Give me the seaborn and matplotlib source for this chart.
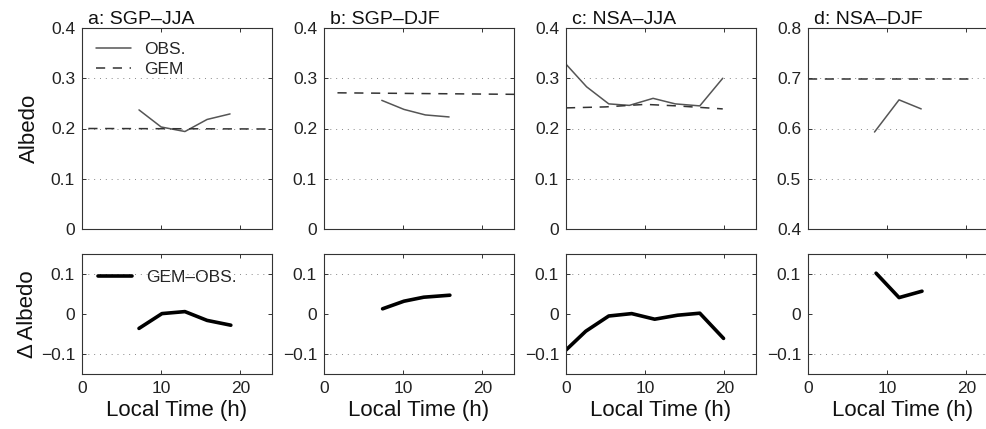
import numpy as np
import pandas as pd
import matplotlib
matplotlib.use('Agg')
import matplotlib.pyplot as plt
import seaborn as sns

sns.set_theme(style='ticks')
plt.rcParams['font.family'] = ['Liberation Sans', 'DejaVu Sans']

titles = ['a: SGP\u2013JJA', 'b: SGP\u2013DJF', 'c: NSA\u2013JJA', 'd: NSA\u2013DJF']

# observed albedo (local time, value)
obs_t_a = [7.2, 10.0, 13.0, 15.8, 18.7]
obs_a = [0.237, 0.203, 0.194, 0.218, 0.229]
obs_t_b = [7.3, 10.1, 12.8, 15.8]
obs_b = [0.256, 0.238, 0.227, 0.223]
obs_t_c = [0.0, 2.6, 5.4, 8.0, 11.0, 13.8, 16.9, 19.8]
obs_c = [0.328, 0.283, 0.249, 0.246, 0.260, 0.249, 0.245, 0.300]
obs_t_d = [8.4, 11.5, 14.3]
obs_d = [0.593, 0.657, 0.639]

# model albedo
gem_t_a = [0.8, 24.0]
gem_a = [0.200, 0.199]
gem_t_b = [1.7, 24.0]
gem_b = [0.271, 0.268]
gem_t_c = [0.0, 5.0, 10.0, 14.0, 19.8]
gem_c = [0.241, 0.243, 0.248, 0.245, 0.239]
gem_t_d = [0.0, 20.4]
gem_d = [0.698, 0.698]

# GEM - OBS
dif_t_a = [7.2, 10.1, 13.0, 15.8, 18.8]
dif_a = [-0.036, 0.001, 0.006, -0.016, -0.028]
dif_t_b = [7.4, 10.1, 12.6, 15.9]
dif_b = [0.013, 0.032, 0.042, 0.047]
dif_t_c = [0.0, 2.5, 5.4, 8.3, 11.2, 14.1, 16.9, 19.9]
dif_c = [-0.090, -0.043, -0.005, 0.001, -0.013, -0.003, 0.002, -0.061]
dif_t_d = [8.6, 11.5, 14.4]
dif_d = [0.102, 0.041, 0.057]

obs_t = [obs_t_a, obs_t_b, obs_t_c, obs_t_d]
obs = [obs_a, obs_b, obs_c, obs_d]
gem_t = [gem_t_a, gem_t_b, gem_t_c, gem_t_d]
gem = [gem_a, gem_b, gem_c, gem_d]
dif_t = [dif_t_a, dif_t_b, dif_t_c, dif_t_d]
dif = [dif_a, dif_b, dif_c, dif_d]

ylims = [(0, 0.4), (0, 0.4), (0, 0.4), (0.4, 0.8)]
yticks = [[0, 0.1, 0.2, 0.3, 0.4]] * 3 + [[0.4, 0.5, 0.6, 0.7, 0.8]]
ytlab = [['0', '0.1', '0.2', '0.3', '0.4']] * 3 + [['0.4', '0.5', '0.6', '0.7', '0.8']]

W, H = 987, 429
fig = plt.figure(figsize=(W / 100, H / 100), dpi=100)
lefts = [82, 324, 566, 808]
width = 190


def style(ax):
    for s in ax.spines.values():
        s.set_color('#333333')
        s.set_linewidth(0.8)
    ax.tick_params(direction='in', length=3, width=0.7, color='#333333',
                   top=True, right=True, labelsize=12.5, pad=5, labelcolor='#222222')
    ax.set_xlim(0, 24)
    ax.set_xticks([0, 10, 20])


for i in range(4):
    x0 = lefts[i] / W
    ax = fig.add_axes([x0, 1 - 229 / H, width / W, 201 / H])
    ax2 = fig.add_axes([x0, 1 - 374 / H, width / W, 120 / H])

    df_o = pd.DataFrame({'t': obs_t[i], 'v': obs[i]})
    df_g = pd.DataFrame({'t': gem_t[i], 'v': gem[i]})
    df_d = pd.DataFrame({'t': dif_t[i], 'v': dif[i]})

    sns.lineplot(data=df_o, x='t', y='v', ax=ax, color='#555555', lw=1.1, label='OBS.')
    sns.lineplot(data=df_g, x='t', y='v', ax=ax, color='#333333', lw=1.1,
                 dashes=False, linestyle=(0, (6, 5)), label='GEM')
    sns.lineplot(data=df_d, x='t', y='v', ax=ax2, color='black', lw=2.6, label='GEM\u2013OBS.')

    style(ax)
    style(ax2)
    ax.set_ylim(*ylims[i])
    ax.set_yticks(yticks[i])
    ax.set_yticklabels(ytlab[i])
    ax.set_xticklabels([])
    ax2.set_ylim(-0.15, 0.15)
    ax2.set_yticks([-0.1, 0, 0.1])
    ax2.set_yticklabels(['\u22120.1', '0', '0.1'])

    ax.set_title(titles[i], loc='left', fontsize=14, pad=2, x=0.03, color='#111111')
    ax.set_xlabel('')
    ax2.set_xlabel('Local Time (h)', fontsize=16, color='#111111', labelpad=3)

    for a, lv in [(ax, yticks[i][1:-1]), (ax2, [-0.1, 0.1])]:
        for y in lv:
            a.axhline(y, color='#888888', lw=0.7, ls=(0, (1, 5)), zorder=0)

    if i == 0:
        ax.set_ylabel('Albedo', fontsize=16, color='#111111', labelpad=8)
        ax2.set_ylabel('\u0394 Albedo', fontsize=16, color='#111111', labelpad=2)
        ax.legend(loc='upper left', frameon=False, fontsize=12.5, handlelength=2.0,
                  borderaxespad=0.4, labelspacing=0.3)
        ax2.legend(loc='upper left', frameon=False, fontsize=12.5, handlelength=2.0,
                   borderaxespad=0.5)
    else:
        ax.set_ylabel('')
        ax2.set_ylabel('')
        ax.get_legend().remove()
        ax2.get_legend().remove()

fig.savefig('out.png', dpi=100)
